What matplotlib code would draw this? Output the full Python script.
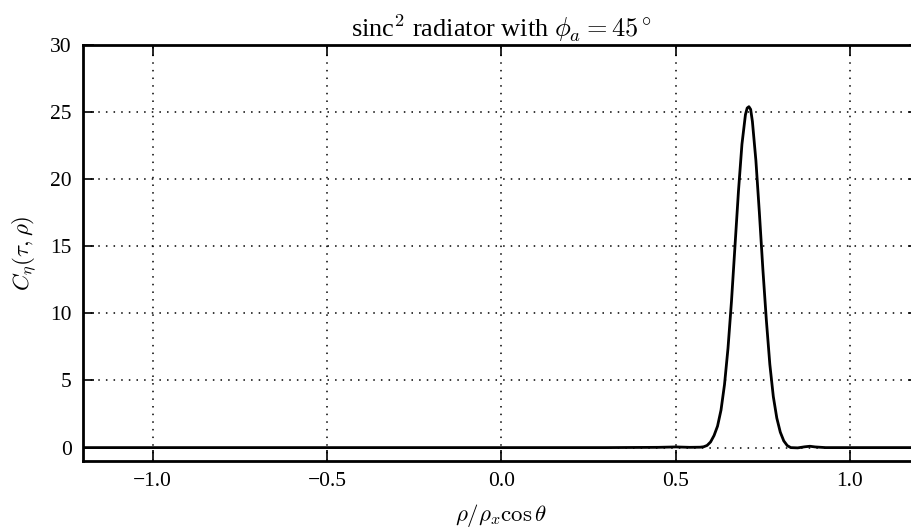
#!/usr/bin/env python3

import matplotlib
matplotlib.use("Agg")
import matplotlib.pyplot as plt

# values
rho = [-1.2, -1.0, -0.5, 0.0, 0.3, 0.45, 0.5, 0.54, 0.57, 0.58, 0.59, 0.60,
       0.61, 0.62, 0.63, 0.64, 0.65, 0.66, 0.67, 0.68, 0.69, 0.70, 0.705,
       0.71, 0.715, 0.72, 0.73, 0.74, 0.75, 0.76, 0.77, 0.78, 0.79, 0.80,
       0.81, 0.82, 0.83, 0.85, 0.87, 0.885, 0.90, 0.93, 1.0, 1.2]
corr = [0.0, 0.0, 0.0, 0.0, 0.0, 0.02, 0.05, 0.02, 0.03, 0.06, 0.16, 0.42,
        0.9, 1.6, 2.8, 4.7, 7.4, 10.9, 15.0, 19.1, 22.6, 24.8, 25.3,
        25.4, 25.2, 24.3, 21.4, 17.5, 13.3, 9.5, 6.2, 3.8, 2.2, 1.15,
        0.5, 0.15, 0.0, -0.02, 0.06, 0.1, 0.05, 0.0, 0.0, 0.0]

xticks = [-1.0, -0.5, 0.0, 0.5, 1.0]
yticks = [0, 5, 10, 15, 20, 25, 30]

plt.rcParams["font.family"] = "Liberation Serif"
plt.rcParams["mathtext.fontset"] = "cm"

fig = plt.figure(figsize=(9.12, 5.29), dpi=100)
ax = fig.add_axes([0.091, 0.1285, 0.9175, 0.7865])

ax.plot(rho, corr, color="black", linewidth=2)

ax.set_xlim(-1.2, 1.2)
ax.set_ylim(-1, 30)
ax.set_xticks(xticks)
ax.set_yticks(yticks)
ax.grid(True, color="black", linestyle=(0, (1, 4)), linewidth=1.1)

for s in ax.spines.values():
    s.set_linewidth(2)

ax.tick_params(direction="in", length=8, width=1.2, top=True, right=True,
               labelsize=15.5, pad=8)

ax.set_title(r"sinc$^2$ radiator with $\phi_a = 45^\circ$", fontsize=19, pad=6)
ax.set_xlabel(r"$\rho/\rho_x \cos\theta$", fontsize=16.5, labelpad=8)
ax.set_ylabel(r"$C_\eta(\tau,\rho)$", fontsize=16.5, labelpad=8)

fig.savefig("out.png", dpi=100)
